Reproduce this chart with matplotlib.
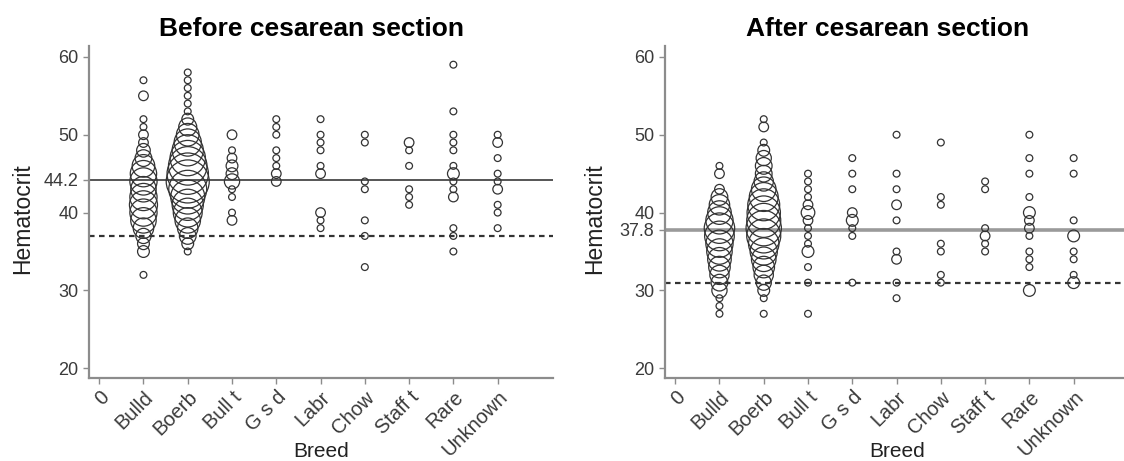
import matplotlib
matplotlib.use('Agg')
import matplotlib.pyplot as plt

plt.rcParams['font.family'] = ['Liberation Sans', 'DejaVu Sans']

breeds = ['0', 'Bulld', 'Boerb', 'Bull t', 'G s d', 'Labr', 'Chow', 'Staff t', 'Rare', 'Unknown']

# hematocrit value -> number of dogs, before cesarean section
before_bulld = {57: 1, 55: 2, 52: 1, 51: 1, 50: 2, 49: 2, 48: 4, 47: 6, 46: 11, 45: 15, 44: 16,
                43: 14, 42: 16, 41: 17, 40: 16, 39: 14, 38: 9, 37: 5, 36: 3, 35: 3, 32: 1}
before_boerb = {58: 1, 57: 1, 56: 1, 55: 1, 54: 1, 53: 1, 52: 3, 51: 7, 50: 11, 49: 16, 48: 21,
                47: 27, 46: 32, 45: 37, 44: 40, 43: 31, 42: 25, 41: 21, 40: 18, 39: 14, 38: 9,
                37: 6, 36: 3, 35: 1}
before_bullt = {50: 2, 48: 1, 47: 2, 46: 3, 45: 3, 44: 5, 43: 1, 42: 1, 40: 1, 39: 2}
before_gsd = {52: 1, 51: 1, 50: 1, 48: 1, 47: 1, 46: 1, 45: 2, 44: 2}
before_labr = {52: 1, 50: 1, 49: 1, 48: 1, 46: 1, 45: 2, 40: 2, 39: 1, 38: 1}
before_chow = {50: 1, 49: 1, 44: 1, 43: 1, 39: 1, 37: 1, 33: 1}
before_stafft = {49: 2, 48: 1, 46: 1, 43: 1, 42: 1, 41: 1}
before_rare = {59: 1, 53: 1, 50: 1, 49: 1, 48: 1, 46: 1, 45: 3, 44: 1, 43: 1, 42: 2, 38: 1,
               37: 1, 35: 1}
before_unknown = {50: 1, 49: 2, 47: 1, 45: 1, 44: 1, 43: 2, 41: 1, 40: 1, 38: 1}

# hematocrit value -> number of dogs, after cesarean section
after_bulld = {46: 1, 45: 2, 43: 2, 42: 6, 41: 9, 40: 12, 39: 16, 38: 20, 37: 19, 36: 16,
               35: 14, 34: 12, 33: 10, 32: 8, 31: 6, 30: 5, 29: 1, 28: 1, 27: 1}
after_boerb = {52: 1, 51: 2, 49: 1, 48: 3, 47: 5, 46: 6, 45: 6, 44: 8, 43: 13, 42: 18, 41: 22,
               40: 24, 39: 25, 38: 27, 37: 25, 36: 20, 35: 16, 34: 13, 33: 10, 32: 8, 31: 5,
               30: 3, 29: 1, 27: 1}
after_bullt = {45: 1, 44: 1, 43: 1, 42: 1, 41: 2, 40: 4, 39: 2, 38: 1, 37: 1, 36: 1, 35: 3,
               33: 1, 31: 1, 27: 1}
after_gsd = {47: 1, 45: 1, 43: 1, 40: 2, 39: 3, 38: 1, 37: 1, 31: 1}
after_labr = {50: 1, 45: 1, 43: 1, 41: 2, 39: 1, 35: 1, 34: 2, 31: 1, 29: 1}
after_chow = {49: 1, 42: 1, 41: 1, 36: 1, 35: 1, 32: 1, 31: 1}
after_stafft = {44: 1, 43: 1, 38: 1, 37: 2, 36: 1, 35: 1}
after_rare = {50: 1, 47: 1, 45: 1, 42: 1, 40: 3, 39: 2, 38: 2, 37: 1, 35: 1, 34: 1, 33: 1, 30: 3}
after_unknown = {47: 1, 45: 1, 39: 1, 37: 3, 35: 1, 34: 1, 32: 1, 31: 3}

before_mean, before_ref = 44.2, 37
after_mean, after_ref = 37.8, 31

before = [before_bulld, before_boerb, before_bullt, before_gsd, before_labr,
          before_chow, before_stafft, before_rare, before_unknown]
after = [after_bulld, after_boerb, after_bullt, after_gsd, after_labr,
         after_chow, after_stafft, after_rare, after_unknown]


def draw_panel(ax, groups, mean, ref, title, mean_color, mean_lw, ylab_x):
    for i, counts in enumerate(groups, start=1):
        ys = list(counts.keys())
        ns = list(counts.values())
        ax.scatter([i] * len(ys), ys, s=[24 * n for n in ns], facecolors='none',
                   edgecolors='#333333', linewidths=0.9, zorder=3)
    ax.axhline(mean, color=mean_color, lw=mean_lw, zorder=2)
    ax.axhline(ref, color='#333333', lw=1.6, ls=(0, (2.5, 2)), zorder=2)

    ax.set_xlim(-0.23, 10.25)
    ax.set_ylim(18.75, 61.4)
    ax.set_xticks(range(len(breeds)))
    ax.set_xticklabels(breeds, rotation=45, ha='right', rotation_mode='anchor', fontsize=14.5)
    yt = sorted([20, 30, 40, 50, 60, mean])
    ax.set_yticks(yt)
    ax.set_yticklabels(['%g' % t for t in yt], fontsize=13)

    for side in ['top', 'right']:
        ax.spines[side].set_visible(False)
    for side in ['left', 'bottom']:
        ax.spines[side].set_color('#8c8c8c')
        ax.spines[side].set_linewidth(1.6)
    ax.tick_params(colors='#8c8c8c', labelcolor='#3a3a3a', length=4, width=1)
    ax.tick_params(axis='x', pad=3)

    ax.set_xlabel('Breed', fontsize=15, color='#222222', va='center')
    ax.xaxis.set_label_coords(0.5, -0.22)
    ax.set_ylabel('Hematocrit', fontsize=16.5, color='#222222', va='center')
    ax.yaxis.set_label_coords(ylab_x, 0.48)
    ax.set_title(title, fontsize=19, fontweight='bold', x=0.48, pad=7)


fig = plt.figure(figsize=(11.24, 4.61), dpi=100)
ax1 = fig.add_axes([89 / 1124, 83 / 461, 464 / 1124, 332 / 461])
ax2 = fig.add_axes([665 / 1124, 83 / 461, 464 / 1124, 332 / 461])

draw_panel(ax1, before, before_mean, before_ref, 'Before cesarean section', '#555555', 1.4, -0.142)
draw_panel(ax2, after, after_mean, after_ref, 'After cesarean section', '#9a9a9a', 2.6, -0.151)

fig.savefig('out.png', dpi=100)
